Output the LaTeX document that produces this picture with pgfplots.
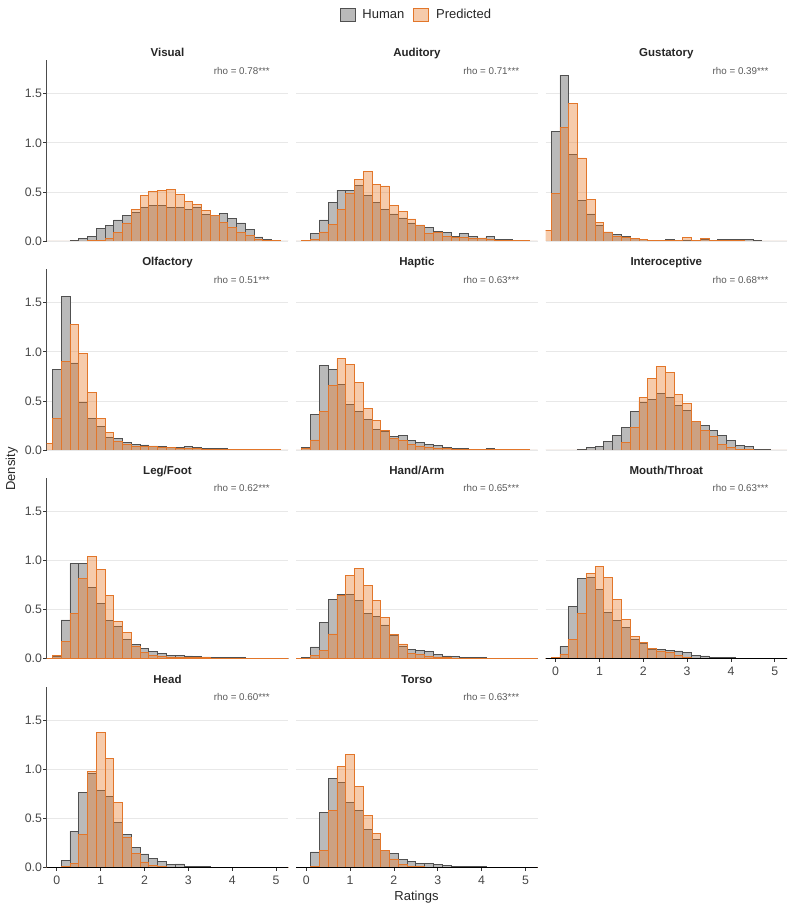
\documentclass[border=0pt]{standalone}
\usepackage{pgfplots}
\pgfplotsset{compat=1.18}
\usepackage{pgfplotstable}
\usepackage{fontspec}
\setmainfont{Liberation Sans}
\definecolor{hfill}{RGB}{186,186,186}
\definecolor{hline}{RGB}{80,80,80}
\definecolor{pfill}{RGB}{232,125,46}
\definecolor{pline}{RGB}{226,118,42}
\definecolor{gridc}{RGB}{232,232,232}

\pgfplotstableread{
x h p
-0.2 0 0
0 0 0
0.2 0 0
0.4 0.003 0
0.6 0.024 0
0.8 0.048 0.007
1.0 0.126 0.010
1.2 0.154 0.024
1.4 0.215 0.085
1.6 0.263 0.184
1.8 0.287 0.324
2.0 0.345 0.464
2.2 0.358 0.505
2.4 0.365 0.519
2.6 0.345 0.522
2.8 0.345 0.474
3.0 0.321 0.403
3.2 0.345 0.375
3.4 0.273 0.307
3.6 0.259 0.259
3.8 0.280 0.188
4.0 0.232 0.140
4.2 0.184 0.089
4.4 0.119 0.061
4.6 0.041 0.017
4.8 0.017 0.003
5.0 0.005 0.003
5.2 0 0
}\tVisual
\pgfplotstableread{
x h p
-0.2 0 0
0 0.010 0.007
0.2 0.078 0.017
0.4 0.215 0.092
0.6 0.396 0.171
0.8 0.519 0.324
1.0 0.512 0.488
1.2 0.570 0.625
1.4 0.464 0.710
1.6 0.392 0.577
1.8 0.317 0.560
2.0 0.276 0.365
2.2 0.235 0.300
2.4 0.184 0.225
2.6 0.164 0.154
2.8 0.137 0.078
3.0 0.099 0.092
3.2 0.089 0.044
3.4 0.048 0.041
3.6 0.075 0.034
3.8 0.048 0.027
4.0 0.031 0.024
4.2 0.044 0.017
4.4 0.017 0.010
4.6 0.020 0.007
4.8 0.007 0.003
5.0 0.002 0.002
5.2 0 0
}\tAuditory
\pgfplotstableread{
x h p
-0.2 0 0.109
0 1.113 0.488
0.2 1.690 1.160
0.4 0.877 1.403
0.6 0.416 0.846
0.8 0.276 0.420
1.0 0.157 0.188
1.2 0.092 0.092
1.4 0.068 0.048
1.6 0.048 0.041
1.8 0.024 0.027
2.0 0.017 0.017
2.2 0.010 0.010
2.4 0.005 0.005
2.6 0.020 0.010
2.8 0.010 0.010
3.0 0.010 0.034
3.2 0.010 0.010
3.4 0.015 0.024
3.6 0.010 0.010
3.8 0.017 0.005
4.0 0.017 0.003
4.2 0.017 0.002
4.4 0.017 0
4.6 0.010 0
4.8 0 0
5.0 0 0
5.2 0 0
}\tGustatory
\pgfplotstableread{
x h p
-0.2 0 0.068
0 0.820 0.322
0.2 1.568 0.904
0.4 0.887 1.280
0.6 0.488 0.982
0.8 0.318 0.582
1.0 0.244 0.322
1.2 0.125 0.176
1.4 0.119 0.088
1.6 0.075 0.061
1.8 0.058 0.037
2.0 0.051 0.037
2.2 0.041 0.034
2.4 0.037 0.024
2.6 0.030 0.024
2.8 0.024 0.020
3.0 0.037 0.017
3.2 0.030 0.014
3.4 0.020 0.010
3.6 0.017 0.010
3.8 0.014 0.007
4.0 0.010 0.005
4.2 0.007 0.003
4.4 0.007 0.003
4.6 0.007 0.003
4.8 0.005 0.003
5.0 0.003 0.003
5.2 0 0
}\tOlfactory
\pgfplotstableread{
x h p
-0.2 0 0
0 0.024 0.020
0.2 0.362 0.102
0.4 0.864 0.393
0.6 0.820 0.660
0.8 0.667 0.931
1.0 0.467 0.870
1.2 0.396 0.684
1.4 0.312 0.427
1.6 0.210 0.301
1.8 0.193 0.200
2.0 0.142 0.119
2.2 0.149 0.095
2.4 0.095 0.054
2.6 0.081 0.041
2.8 0.058 0.030
3.0 0.044 0.020
3.2 0.030 0.014
3.4 0.020 0.010
3.6 0.014 0.007
3.8 0.010 0.005
4.0 0.010 0.003
4.2 0.017 0.005
4.4 0.007 0.003
4.6 0.007 0.003
4.8 0.007 0.003
5.0 0.005 0.003
5.2 0 0
}\tHaptic
\pgfplotstableread{
x h p
-0.2 0 0
0 0 0
0.2 0 0
0.4 0 0
0.6 0.007 0
0.8 0.027 0
1.0 0.037 0
1.2 0.091 0
1.4 0.149 0
1.6 0.234 0.078
1.8 0.393 0.230
2.0 0.484 0.538
2.2 0.515 0.731
2.4 0.576 0.850
2.6 0.532 0.789
2.8 0.454 0.566
3.0 0.403 0.477
3.2 0.290 0.293
3.4 0.247 0.203
3.6 0.200 0.135
3.8 0.152 0.054
4.0 0.095 0.027
4.2 0.044 0.010
4.4 0.034 0.005
4.6 0.007 0
4.8 0.003 0
5.0 0 0
5.2 0 0
}\tInteroceptive
\pgfplotstableread{
x h p
-0.2 0 0
0 0.017 0.031
0.2 0.391 0.170
0.4 0.963 0.456
0.6 0.969 0.816
0.8 0.718 1.034
1.0 0.561 0.905
1.2 0.388 0.643
1.4 0.323 0.374
1.6 0.194 0.262
1.8 0.143 0.126
2.0 0.099 0.058
2.2 0.068 0.031
2.4 0.048 0.020
2.6 0.031 0.014
2.8 0.031 0.010
3.0 0.024 0.007
3.2 0.020 0.007
3.4 0.014 0.005
3.6 0.010 0.003
3.8 0.010 0.003
4.0 0.007 0.003
4.2 0.005 0.002
4.4 0.003 0
4.6 0.003 0
4.8 0.002 0
5.0 0 0
5.2 0 0
}\tLegFoot
\pgfplotstableread{
x h p
-0.2 0 0
0 0.005 0.003
0.2 0.116 0.027
0.4 0.367 0.078
0.6 0.595 0.248
0.8 0.653 0.640
1.0 0.646 0.847
1.2 0.585 0.912
1.4 0.456 0.741
1.6 0.429 0.592
1.8 0.340 0.418
2.0 0.238 0.245
2.2 0.126 0.146
2.4 0.092 0.051
2.6 0.082 0.041
2.8 0.068 0.017
3.0 0.041 0.010
3.2 0.024 0.005
3.4 0.017 0.003
3.6 0.010 0.002
3.8 0.007 0.002
4.0 0.005 0
4.2 0.003 0
4.4 0.003 0
4.6 0.002 0
4.8 0 0
5.0 0 0
5.2 0 0
}\tHandArm
\pgfplotstableread{
x h p
-0.2 0 0
0 0.010 0.010
0.2 0.122 0.044
0.4 0.524 0.194
0.6 0.813 0.456
0.8 0.823 0.864
1.0 0.697 0.939
1.2 0.469 0.823
1.4 0.384 0.599
1.6 0.316 0.398
1.8 0.197 0.221
2.0 0.156 0.160
2.2 0.092 0.102
2.4 0.088 0.075
2.6 0.078 0.065
2.8 0.075 0.027
3.0 0.058 0.010
3.2 0.027 0.003
3.4 0.024 0.002
3.6 0.007 0
3.8 0.007 0
4.0 0.005 0
4.2 0.003 0
4.4 0.002 0
4.6 0 0
4.8 0 0
5.0 0 0
5.2 0 0
}\tMouth
\pgfplotstableread{
x h p
-0.2 0 0
0 0.003 0.002
0.2 0.071 0.005
0.4 0.366 0.041
0.6 0.766 0.336
0.8 0.956 0.976
1.0 0.786 1.376
1.2 0.719 1.108
1.4 0.458 0.658
1.6 0.332 0.302
1.8 0.203 0.142
2.0 0.136 0.054
2.2 0.088 0.020
2.4 0.058 0.007
2.6 0.027 0.003
2.8 0.034 0.002
3.0 0.007 0
3.2 0.005 0
3.4 0.010 0
3.6 0.003 0
3.8 0.003 0
4.0 0.003 0
4.2 0.003 0
4.4 0.002 0
4.6 0 0
4.8 0 0
5.0 0 0
5.2 0 0
}\tHead
\pgfplotstableread{
x h p
-0.2 0 0
0 0.003 0.002
0.2 0.156 0.007
0.4 0.559 0.173
0.6 0.905 0.580
0.8 0.868 1.027
1.0 0.658 1.153
1.2 0.576 0.827
1.4 0.383 0.532
1.6 0.281 0.342
1.8 0.176 0.176
2.0 0.142 0.085
2.2 0.081 0.031
2.4 0.058 0.010
2.6 0.041 0.005
2.8 0.041 0.003
3.0 0.027 0.002
3.2 0.020 0
3.4 0.010 0
3.6 0.005 0
3.8 0.005 0
4.0 0.005 0
4.2 0.003 0
4.4 0.003 0
4.6 0.003 0
4.8 0.002 0
5.0 0 0
5.2 0 0
}\tTorso

\pgfplotsset{
 hum/.style={ybar, bar width=0.2, bar shift=0pt, fill=hfill, draw=hline, line width=0.75pt,
   legend image code/.code={\draw[##1] (0pt,-6.5pt) rectangle (15pt,6.5pt);}},
 pre/.style={ybar, bar width=0.2, bar shift=0pt, fill=pfill, fill opacity=0.4, draw=pline, line width=0.75pt,
   legend image code/.code={\draw[##1] (0pt,-6.5pt) rectangle (15pt,6.5pt);}},
 panel/.style={
  scale only axis, width=241.6pt, height=180.7pt, anchor=south west,
  xmin=-0.23, xmax=5.28, ymin=0, ymax=1.84,
  axis lines*=left, axis line style={-, line width=1.1pt},
  x axis line style={draw=none}, y axis line style={black!70},
  xtick={0,1,2,3,4,5}, ytick={0,0.5,1,1.5},
  ymajorgrids, grid style={gridc, line width=0.7pt},
  tick align=outside, major tick length=3.3pt, tick style={black!80, line width=0.7pt},
  yticklabel style={inner sep=1.2pt, /pgf/number format/fixed, /pgf/number format/fixed zerofill, /pgf/number format/precision=1},
  xticklabel style={yshift=-1.5pt},
  /pgf/number format/assume math mode=true,
  ticklabel style={font=\fontsize{12.3}{14}\selectfont, text=black!72},
  title style={at={(0.5,1)}, anchor=base, yshift=-2.7pt, font=\bfseries\fontsize{11.5}{13}\selectfont, text=black!85},
 },
 noy/.style={y axis line style={draw=none}, yticklabels={}, ytick style={draw=none}},
 nox/.style={xticklabels={}, xtick style={draw=none}},
}
\tikzset{rhostyle/.style={anchor=east, font=\fontsize{9.8}{11}\selectfont, text=black!65, inner sep=0pt}}

% #1 position, #2 title, #3 rho, #4 options, #5 table, #6 extra drawing after plots
\newcommand{\panel}[6]{%
 \begin{axis}[panel, at={(#1)}, title={#2}, #4]
 \addplot[hum] table[x=x,y=h]{#5};
 \addplot[pre] table[x=x,y=p]{#5};
 #6
 \node[rhostyle] at (rel axis cs:0.924,0.943) {rho = #3***};
 \end{axis}}
\newcommand{\xline}{\draw[black, line width=1.1pt] (rel axis cs:0,0) -- (rel axis cs:1,0);}

\begin{document}
\begin{tikzpicture}
\path (0pt,0pt) rectangle (793pt,911pt);
\panel{46.7pt,670pt}{Visual}{0.78}{nox, legend entries={Human,Predicted}, legend style={at={(1.530,1.2507)}, anchor=center, draw=none, fill=none, legend columns=2, font=\fontsize{13}{15}\selectfont, text=black!85, /tikz/every odd column/.append style={column sep=5pt}, /tikz/every even column/.append style={column sep=7pt}}}{\tVisual}{}
\panel{296.1pt,670pt}{Auditory}{0.71}{nox,noy}{\tAuditory}{}
\panel{545.5pt,670pt}{Gustatory}{0.39}{nox,noy}{\tGustatory}{}
\panel{46.7pt,461pt}{Olfactory}{0.51}{nox}{\tOlfactory}{}
\panel{296.1pt,461pt}{Haptic}{0.63}{nox,noy}{\tHaptic}{}
\panel{545.5pt,461pt}{Interoceptive}{0.68}{nox,noy}{\tInteroceptive}{}
\panel{46.7pt,252.7pt}{Leg/Foot}{0.62}{nox}{\tLegFoot}{}
\panel{296.1pt,252.7pt}{Hand/Arm}{0.65}{nox,noy}{\tHandArm}{}
\panel{545.5pt,252.7pt}{Mouth/Throat}{0.63}{noy}{\tMouth}{\xline}
\panel{46.7pt,43.7pt}{Head}{0.60}{}{\tHead}{\xline}
\panel{296.1pt,43.7pt}{Torso}{0.63}{noy}{\tTorso}{\xline}
\node[rotate=90, font=\fontsize{13}{15}\selectfont, text=black!85] at (11.7pt,442pt) {Density};
\node[anchor=base, font=\fontsize{13}{15}\selectfont, text=black!85] at (416.5pt,10pt) {Ratings};
\end{tikzpicture}
\end{document}
